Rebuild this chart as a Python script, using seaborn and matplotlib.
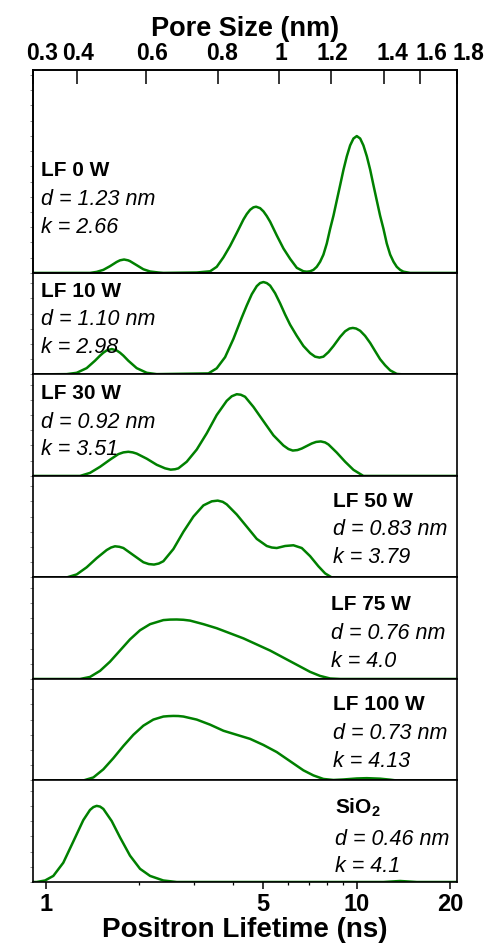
import seaborn as sns
import matplotlib.pyplot as plt
from matplotlib.ticker import FixedLocator, NullFormatter, NullLocator, MultipleLocator
from matplotlib.transforms import ScaledTranslation

# positron lifetime (ns) vs. intensity (% of panel height)
lf0_ns = [0.91, 1.388, 1.458, 1.532, 1.609, 1.691, 1.733, 1.786, 1.839, 1.866, 1.961, 2.060, 2.165,
          2.302, 2.389, 3.059, 3.377, 3.546, 3.727, 3.915, 4.113, 4.321, 4.429, 4.540, 4.652, 4.746,
          4.887, 5.011, 5.135, 5.265, 5.532, 5.811, 6.106, 6.414, 6.736, 6.907, 7.077, 7.254, 7.434,
          7.621, 7.810, 8.007, 8.208, 8.413, 8.622, 8.838, 9.059, 9.285, 9.517, 9.755, 9.998, 10.25,
          10.50, 10.77, 11.04, 11.31, 11.59, 11.88, 12.18, 12.48, 12.80, 13.12, 13.44, 13.78, 14.12,
          14.84, 21.0]
lf0_int = [0, 0, 0.5, 1.5, 3.3, 5.4, 6.2, 6.6, 6.2, 5.8, 3.8, 1.8, 0.7,
           0.2, 0, 0.2, 0.8, 3.0, 7.7, 13.3, 19.7, 26.3, 29.0, 31.1, 32.3, 32.6,
           31.9, 30.3, 28.0, 25.2, 18.4, 12.0, 6.9, 2.5, 0.8, 0.6, 0.8, 1.5, 3.0,
           5.5, 9.0, 14.5, 21.7, 28.2, 35.7, 43.2, 50.8, 57.4, 62.8, 66.2, 67.4, 66.2,
           62.8, 57.4, 50.8, 43.2, 35.7, 28.2, 21.7, 14.5, 9.0, 5.5, 3.0, 1.5, 0.6,
           0, 0]

lf10_ns = [0.91, 1.168, 1.258, 1.354, 1.440, 1.495, 1.532, 1.570, 1.630, 1.691, 1.733, 1.777,
           1.843, 1.961, 2.112, 2.274, 3.334, 3.545, 3.772, 4.012, 4.267, 4.429, 4.596, 4.769,
           4.887, 5.009, 5.135, 5.264, 5.462, 5.668, 5.882, 6.103, 6.412, 6.736, 7.077, 7.342,
           7.584, 7.810, 8.107, 8.413, 8.838, 9.170, 9.469, 9.706, 9.949, 10.25, 10.63, 11.04,
           11.45, 11.88, 12.33, 12.80, 13.44, 14.13, 21.0]
lf10_int = [0, 0.3, 1.6, 6.2, 13.5, 18.5, 21.4, 23.6, 25, 23.6, 21.4, 18.5,
            13.5, 6.2, 1.6, 0.3, 1, 6, 17, 35, 56, 68, 79, 87,
            90, 91, 90, 87.5, 80, 70, 59, 49, 38, 28, 21, 17.5,
            16.6, 17.5, 22, 28, 37, 42.5, 45.2, 45.8, 45.2, 43, 38, 31,
            23, 15, 9, 4, 0.5, 0, 0]

lf30_ns = [0.91, 1.289, 1.388, 1.495, 1.609, 1.712, 1.777, 1.843, 1.904, 1.961, 2.112, 2.274,
           2.419, 2.522, 2.604, 2.670, 2.840, 3.058, 3.293, 3.545, 3.818, 3.963, 4.112, 4.236,
           4.373, 4.653, 5.009, 5.395, 5.809, 6.029, 6.225, 6.445, 6.653, 7.166, 7.398, 7.659,
           7.909, 8.107, 8.621, 9.171, 9.755, 10.50, 21.0]
lf30_int = [0, 0, 3, 9, 16, 21.5, 23.2, 23.8, 23.2, 22, 17, 11,
            7.5, 6.2, 6.6, 7.5, 14, 26, 42, 60, 74, 78.5, 80.5, 80,
            78, 68, 54, 40, 30, 26.5, 25, 25.5, 27, 32, 33.5, 34,
            33, 31, 23, 14, 6, 0, 0]

lf50_ns = [0.91, 1.168, 1.258, 1.354, 1.458, 1.570, 1.622, 1.670, 1.725, 1.777, 1.913, 2.060,
           2.144, 2.229, 2.308, 2.389, 2.573, 2.771, 2.984, 3.213, 3.418, 3.572, 3.707, 3.818,
           4.112, 4.429, 4.768, 5.135, 5.329, 5.529, 5.882, 6.255, 6.653, 7.077, 7.526, 7.909,
           8.310, 21.0]
lf50_int = [0, 0, 3, 10, 19, 27, 29.5, 30.7, 30.2, 29, 22, 15,
            13.2, 12.7, 13.7, 16, 28, 45, 60, 71, 75, 75.7, 74.5, 72,
            62, 50, 38, 31, 29.5, 29, 31, 31.7, 29, 21, 11, 4,
            0, 0]

lf75_ns = [0.91, 1.289, 1.388, 1.495, 1.609, 1.733, 1.866, 2.010, 2.165, 2.389, 2.510, 2.637,
           2.771, 2.911, 3.213, 3.545, 3.914, 4.320, 4.768, 5.264, 5.809, 6.412, 7.077, 7.621,
           8.207, 8.838, 21.0]
lf75_int = [0, 0, 2, 8, 17, 28, 39, 48, 54, 58, 58.5, 58.6,
            58.3, 57.5, 54, 50, 45, 40, 34, 28, 21, 14, 7, 3,
            0.5, 0, 0]

lf100_ns = [0.91, 1.321, 1.423, 1.532, 1.650, 1.777, 1.913, 2.060, 2.218, 2.389, 2.480, 2.573,
            2.670, 2.771, 3.058, 3.376, 3.726, 4.112, 4.539, 5.009, 5.529, 6.103, 6.736, 7.254,
            7.810, 8.413, 9.059, 9.998, 10.77, 11.88, 12.80, 13.43, 21.0]
lf100_int = [0, 0, 3, 11, 22, 34, 45, 54, 60, 63, 63.4, 63.6,
             63.5, 63, 60, 55, 49, 45, 41, 35, 28, 19, 10, 5,
             1.5, 0.5, 1, 2, 2.3, 1.8, 0.8, 0, 0]

sio2_ns = [0.91, 0.935, 0.995, 1.058, 1.139, 1.227, 1.321, 1.388, 1.423, 1.458, 1.495, 1.532,
           1.630, 1.733, 1.866, 2.010, 2.165, 2.389, 2.637, 12.18, 13.78, 15.59, 21.0]
sio2_int = [0, 0, 1.5, 6, 19, 40, 61, 71, 73.8, 75, 74.3, 72,
            60, 44, 26, 13, 6, 1.5, 0, 0, 1, 0, 0]

sample_names = ["LF 0 W", "LF 10 W", "LF 30 W", "LF 50 W", "LF 75 W", "LF 100 W", "SiO$_\\mathbf{2}$"]
pore_d = ["1.23", "1.10", "0.92", "0.83", "0.76", "0.73", "0.46"]
k_values = ["2.66", "2.98", "3.51", "3.79", "4.0", "4.13", "4.1"]

lifetime_ticks = [1, 5, 10, 20]
lifetime_minor = [2, 3, 4, 6, 7, 8, 9]
pore_labels = ["0.3", "0.4", "0.6", "0.8", "1", "1.2", "1.4", "1.6", "1.8"]
pore_tick_ns = [0.91, 1.264, 2.097, 3.589, 5.638, 8.270, 12.24, 15.98, 21.0]

curves = [(lf0_ns, lf0_int), (lf10_ns, lf10_int), (lf30_ns, lf30_int), (lf50_ns, lf50_int),
          (lf75_ns, lf75_int), (lf100_ns, lf100_int), (sio2_ns, sio2_int)]

sns.set_style("ticks")
plt.rcParams["font.family"] = ["Liberation Sans", "DejaVu Sans"]
plt.rcParams["mathtext.fontset"] = "custom"
plt.rcParams["mathtext.rm"] = "Liberation Sans"
plt.rcParams["mathtext.bf"] = "Liberation Sans:bold"
plt.rcParams["mathtext.it"] = "Liberation Sans:italic"
plt.rcParams["axes.edgecolor"] = "black"
plt.rcParams["axes.linewidth"] = 1.2
plt.rcParams["xtick.color"] = "black"
plt.rcParams["text.color"] = "black"
plt.rcParams["axes.labelcolor"] = "black"

fig, axes = plt.subplots(7, 1, figsize=(4.92, 9.45), dpi=100, sharex=True,
                         gridspec_kw={"height_ratios": [2, 1, 1, 1, 1, 1, 1], "hspace": 0})
fig.subplots_adjust(left=0.067, right=0.929, top=0.925, bottom=0.0656)

# text placement: x in axes fraction, top offset in points
label_x = [0.018, 0.018, 0.018, 0.708, 0.703, 0.708, 0.713]
label_top = [65, 5.5, 6, 10.5, 12, 11, 11]
line_gap = [20, 20, 20, 20, 20, 20, 23]

for i, ax in enumerate(axes):
    ns, inten = curves[i]
    sns.lineplot(x=ns, y=inten, ax=ax, color="green", linewidth=1.8, estimator=None, sort=False)
    ax.set_xscale("log")
    ax.set_xlim(0.91, 21.0)
    ax.set_ylim(0, 100)
    ax.set_ylabel("")
    ax.xaxis.set_major_locator(FixedLocator(lifetime_ticks))
    ax.xaxis.set_minor_locator(FixedLocator(lifetime_minor))
    ax.xaxis.set_minor_formatter(NullFormatter())
    ax.yaxis.set_major_locator(MultipleLocator(7.5 if i == 0 else 15))
    ax.tick_params(axis="x", which="major", direction="out", length=5, width=1.1)
    ax.tick_params(axis="x", which="minor", direction="out", length=2.5, width=0.9)
    ax.tick_params(axis="y", which="major", direction="out", length=2, width=0.7,
                   color="0.55", labelleft=False)

    x0 = label_x[i]
    top = label_top[i]
    ax.annotate(sample_names[i], xy=(x0, 1), xycoords="axes fraction", xytext=(0, -top),
                textcoords="offset points", ha="left", va="top", fontsize=15, fontweight="bold")
    ax.annotate(f"d = {pore_d[i]} nm", xy=(x0, 1), xycoords="axes fraction",
                xytext=(0, -top - line_gap[i]), textcoords="offset points",
                ha="left", va="top", fontsize=15.5, fontstyle="italic")
    ax.annotate(f"k = {k_values[i]}", xy=(x0, 1), xycoords="axes fraction",
                xytext=(0, -top - line_gap[i] - 20), textcoords="offset points",
                ha="left", va="top", fontsize=15.5, fontstyle="italic")

bottom = axes[-1]
bottom.set_xticks(lifetime_ticks, [str(t) for t in lifetime_ticks], fontsize=17, fontweight="bold")
bottom.tick_params(axis="x", which="major", pad=2)
bottom.set_xlabel("Positron Lifetime (ns)", fontsize=20, fontweight="bold", labelpad=1)

ax_top = axes[0].twiny()
ax_top.set_xscale("log")
ax_top.set_xlim(0.91, 21.0)
ax_top.set_xticks(pore_tick_ns, pore_labels, fontsize=16.5, fontweight="bold")
ax_top.xaxis.set_minor_locator(NullLocator())
ax_top.tick_params(axis="x", which="major", direction="in", length=10, width=1.1, pad=4)
ax_top.set_xlabel("Pore Size (nm)", fontsize=19.5, fontweight="bold", labelpad=4.5)

# the pore-size labels sit a little right of their ticks in the original
label_shift_pt = [6.5, 0.7, 4.3, 2.9, 1.4, 0.7, 5.8, 7.9, 8]
for lbl, dx in zip(ax_top.get_xticklabels(), label_shift_pt):
    lbl.set_transform(lbl.get_transform() + ScaledTranslation(dx / 72, 0, fig.dpi_scale_trans))

plt.savefig("out.png", dpi=100)
